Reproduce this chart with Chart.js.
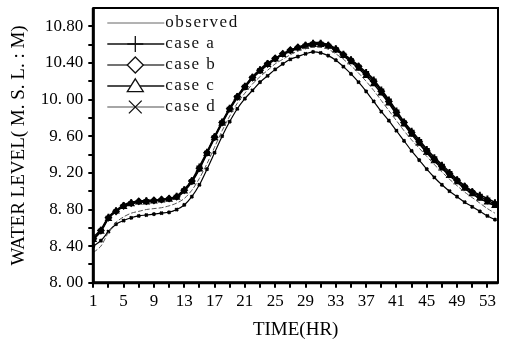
<!DOCTYPE html>
<html>
<head>
<meta charset="utf-8">
<script src="https://cdn.jsdelivr.net/npm/chart.js@4.4.1/dist/chart.umd.min.js"></script>
<style>
  html, body { margin: 0; padding: 0; background: #fff; }
</style>
</head>
<body>
<canvas id="chart" width="512" height="343"></canvas>
<script>
// time in hours
var hours = [1, 2, 3, 4, 5, 6, 7, 8, 9, 10, 11, 12, 13, 14, 15, 16, 17, 18,
  19, 20, 21, 22, 23, 24, 25, 26, 27, 28, 29, 30, 31, 32, 33, 34, 35, 36,
  37, 38, 39, 40, 41, 42, 43, 44, 45, 46, 47, 48, 49, 50, 51, 52, 53, 54];

// water level readings (m)
var observed = [8.33, 8.40, 8.55, 8.66, 8.72, 8.76, 8.78, 8.80, 8.81, 8.82, 8.84, 8.87, 8.92, 9.01, 9.14, 9.30, 9.48, 9.66,
  9.82, 9.96, 10.07, 10.17, 10.25, 10.32, 10.39, 10.44, 10.49, 10.53, 10.56, 10.57, 10.57, 10.55, 10.50, 10.44, 10.37, 10.29,
  10.20, 10.10, 9.99, 9.88, 9.77, 9.66, 9.56, 9.47, 9.38, 9.29, 9.21, 9.13, 9.06, 8.99, 8.93, 8.87, 8.81, 8.76];
var caseA = [8.50, 8.58, 8.72, 8.79, 8.85, 8.88, 8.89, 8.90, 8.90, 8.91, 8.92, 8.95, 9.02, 9.12, 9.27, 9.43, 9.60, 9.76,
  9.91, 10.04, 10.15, 10.25, 10.33, 10.40, 10.45, 10.50, 10.54, 10.57, 10.60, 10.62, 10.62, 10.60, 10.56, 10.50, 10.44, 10.37,
  10.30, 10.22, 10.11, 10.00, 9.88, 9.76, 9.66, 9.56, 9.46, 9.37, 9.29, 9.21, 9.13, 9.06, 9.00, 8.96, 8.92, 8.88];
var caseB = [8.48, 8.57, 8.71, 8.78, 8.84, 8.87, 8.89, 8.89, 8.90, 8.91, 8.92, 8.94, 9.01, 9.11, 9.25, 9.42, 9.59, 9.75,
  9.90, 10.03, 10.14, 10.24, 10.32, 10.39, 10.45, 10.50, 10.54, 10.57, 10.59, 10.61, 10.61, 10.59, 10.55, 10.49, 10.43, 10.36,
  10.28, 10.20, 10.09, 9.98, 9.86, 9.75, 9.64, 9.54, 9.44, 9.35, 9.27, 9.19, 9.12, 9.05, 8.99, 8.94, 8.90, 8.86];
var caseC = [8.47, 8.56, 8.70, 8.78, 8.83, 8.86, 8.88, 8.88, 8.89, 8.90, 8.91, 8.93, 9.00, 9.10, 9.24, 9.41, 9.58, 9.74,
  9.89, 10.02, 10.13, 10.23, 10.31, 10.38, 10.44, 10.49, 10.53, 10.56, 10.58, 10.60, 10.60, 10.58, 10.54, 10.48, 10.41, 10.34,
  10.26, 10.17, 10.07, 9.96, 9.84, 9.73, 9.62, 9.52, 9.42, 9.33, 9.25, 9.17, 9.10, 9.03, 8.97, 8.92, 8.88, 8.84];
var caseD = [8.40, 8.46, 8.56, 8.64, 8.68, 8.71, 8.73, 8.74, 8.75, 8.76, 8.77, 8.80, 8.85, 8.94, 9.07, 9.24, 9.42, 9.60,
  9.76, 9.90, 10.01, 10.10, 10.19, 10.26, 10.33, 10.39, 10.44, 10.47, 10.50, 10.52, 10.51, 10.48, 10.43, 10.36, 10.28, 10.19,
  10.09, 9.98, 9.87, 9.77, 9.66, 9.55, 9.44, 9.34, 9.24, 9.15, 9.07, 9.00, 8.94, 8.88, 8.83, 8.78, 8.73, 8.69];

var seriesNames = ['observed', 'case a', 'case b', 'case c', 'case d'];

// axis ticks
var xTicks = [1, 3, 5, 7, 9, 11, 13, 15, 17, 19, 21, 23, 25, 27, 29, 31, 33, 35, 37, 39, 41, 43, 45, 47, 49, 51, 53];
var xTickLabels = ['1', '5', '9', '13', '17', '21', '25', '29', '33', '37', '41', '45', '49', '53'];
var yTicks = [8.0, 8.2, 8.4, 8.6, 8.8, 9.0, 9.2, 9.4, 9.6, 9.8, 10.0, 10.2, 10.4, 10.6, 10.8];
var yLabelValues = [8.0, 8.4, 8.8, 9.2, 9.6, 10.0, 10.4, 10.8];
var yTickLabels = ['8. 00', '8. 40', '8. 80', '9. 20', '9. 60', '10. 00', '10.40', '10.80'];

var serif = '"Liberation Serif", "DejaVu Serif", serif';

function toPoints(vals) {
  return vals.map(function (v, i) { return { x: hours[i], y: v }; });
}

// 画图例里的标记
function drawMarker(ctx, style, x, y, r) {
  ctx.beginPath();
  if (style === 'cross') {
    ctx.moveTo(x - r, y); ctx.lineTo(x + r, y);
    ctx.moveTo(x, y - r); ctx.lineTo(x, y + r);
    ctx.stroke();
  } else if (style === 'crossRot') {
    ctx.moveTo(x - r * 0.8, y - r * 0.8); ctx.lineTo(x + r * 0.8, y + r * 0.8);
    ctx.moveTo(x + r * 0.8, y - r * 0.8); ctx.lineTo(x - r * 0.8, y + r * 0.8);
    ctx.stroke();
  } else if (style === 'rectRot') {
    ctx.moveTo(x, y - r); ctx.lineTo(x + r, y); ctx.lineTo(x, y + r); ctx.lineTo(x - r, y);
    ctx.closePath();
    ctx.fillStyle = '#fff'; ctx.fill(); ctx.stroke();
  } else if (style === 'triangle') {
    ctx.moveTo(x, y - r * 0.9); ctx.lineTo(x + r, y + r * 0.7); ctx.lineTo(x - r, y + r * 0.7);
    ctx.closePath();
    ctx.fillStyle = '#fff'; ctx.fill(); ctx.stroke();
  }
}

var legendPlugin = {
  id: 'insideLegend',
  afterDraw: function (chart) {
    var ctx = chart.ctx;
    var area = chart.chartArea;
    var x0 = area.left + 14, y0 = area.top + 15, rowH = 21;
    var styles = [null, 'cross', 'rectRot', 'triangle', 'crossRot'];
    var colors = ['#666', '#111', '#444', '#111', '#888'];
    ctx.save();
    ctx.font = '17px ' + serif;
    ctx.letterSpacing = '1.5px';
    ctx.textBaseline = 'middle';
    seriesNames.forEach(function (name, i) {
      var y = y0 + i * rowH;
      ctx.strokeStyle = colors[i];
      ctx.lineWidth = i === 0 ? 1 : 1.5;
      ctx.beginPath();
      ctx.moveTo(x0, y); ctx.lineTo(x0 + 57, y);
      ctx.stroke();
      ctx.strokeStyle = '#111';
      ctx.lineWidth = 1.3;
      if (styles[i]) drawMarker(ctx, styles[i], x0 + 28, y, 8);
      ctx.fillStyle = '#111';
      ctx.fillText(name, x0 + 58, y);
    });
    ctx.restore();
  }
};

var framePlugin = {
  id: 'frame',
  afterDraw: function (chart) {
    var a = chart.chartArea;
    var ctx = chart.ctx;
    ctx.save();
    ctx.strokeStyle = '#000';
    ctx.lineWidth = 2;
    ctx.strokeRect(a.left, a.top, a.right - a.left, a.bottom - a.top);
    ctx.lineWidth = 3;
    ctx.beginPath();
    ctx.moveTo(a.left, a.top); ctx.lineTo(a.left, a.bottom); ctx.lineTo(a.right, a.bottom);
    ctx.stroke();
    ctx.restore();
  }
};

var ctx = document.getElementById('chart').getContext('2d');
new Chart(ctx, {
  type: 'line',
  data: {
    datasets: [
      { label: seriesNames[0], data: toPoints(observed), borderColor: '#555', borderWidth: 1, borderDash: [5, 2],
        pointRadius: 0, tension: 0.3 },
      { label: seriesNames[1], data: toPoints(caseA), borderColor: '#000', borderWidth: 1.5, pointStyle: 'cross',
        pointRadius: 3, pointBorderColor: '#000', pointBorderWidth: 2, tension: 0.3 },
      { label: seriesNames[2], data: toPoints(caseB), borderColor: '#000', borderWidth: 1.5, pointStyle: 'rectRot',
        pointRadius: 3, pointBorderColor: '#000', pointBackgroundColor: '#000', pointBorderWidth: 1.5, tension: 0.3 },
      { label: seriesNames[3], data: toPoints(caseC), borderColor: '#000', borderWidth: 1.5, pointStyle: 'triangle',
        pointRadius: 3, pointBorderColor: '#000', pointBackgroundColor: '#000', pointBorderWidth: 1.5, tension: 0.3 },
      { label: seriesNames[4], data: toPoints(caseD), borderColor: '#000', borderWidth: 1.2, pointStyle: 'crossRot',
        pointRadius: 2, pointBorderColor: '#000', pointBorderWidth: 2, tension: 0.3 }
    ]
  },
  options: {
    responsive: false,
    animation: false,
    layout: { padding: { left: 8, right: 14, top: 8, bottom: 2 } },
    plugins: { legend: { display: false }, tooltip: { enabled: false } },
    scales: {
      x: {
        type: 'linear',
        min: 1,
        max: 54.4,
        afterBuildTicks: function (scale) {
          scale.ticks = xTicks.map(function (v) { return { value: v }; });
        },
        grid: { drawOnChartArea: false, drawTicks: true, tickLength: 5, color: '#000', lineWidth: 2 },
        border: { display: false },
        ticks: {
          color: '#000',
          font: { family: serif, size: 17 },
          maxRotation: 0,
          autoSkip: false,
          padding: 4,
          callback: function (v) {
            var s = String(v);
            return xTickLabels.indexOf(s) >= 0 ? s : '';
          }
        },
        title: { display: true, text: 'TIME(HR)', color: '#000', font: { family: serif, size: 19 }, padding: { top: 2, bottom: 0 } }
      },
      y: {
        min: 8.0,
        max: 11.0,
        afterBuildTicks: function (scale) {
          scale.ticks = yTicks.map(function (v) { return { value: v }; });
        },
        afterFit: function (scale) {
          // top label is not at the top edge, so no extra room is needed there
          scale.paddingTop = 0;
        },
        grid: { drawOnChartArea: false, drawTicks: true, tickLength: 5, color: '#000', lineWidth: 2 },
        border: { display: false },
        ticks: {
          color: '#000',
          font: { family: serif, size: 17 },
          autoSkip: false,
          padding: 5,
          callback: function (v) {
            for (var i = 0; i < yLabelValues.length; i++) {
              if (Math.abs(yLabelValues[i] - v) < 0.001) return yTickLabels[i];
            }
            return '';
          }
        },
        title: { display: true, text: 'WATER LEVEL( M. S. L. : M)', color: '#000', font: { family: serif, size: 19 }, padding: { top: 0, bottom: 5 } }
      }
    }
  },
  plugins: [framePlugin, legendPlugin]
});
</script>
</body>
</html>
